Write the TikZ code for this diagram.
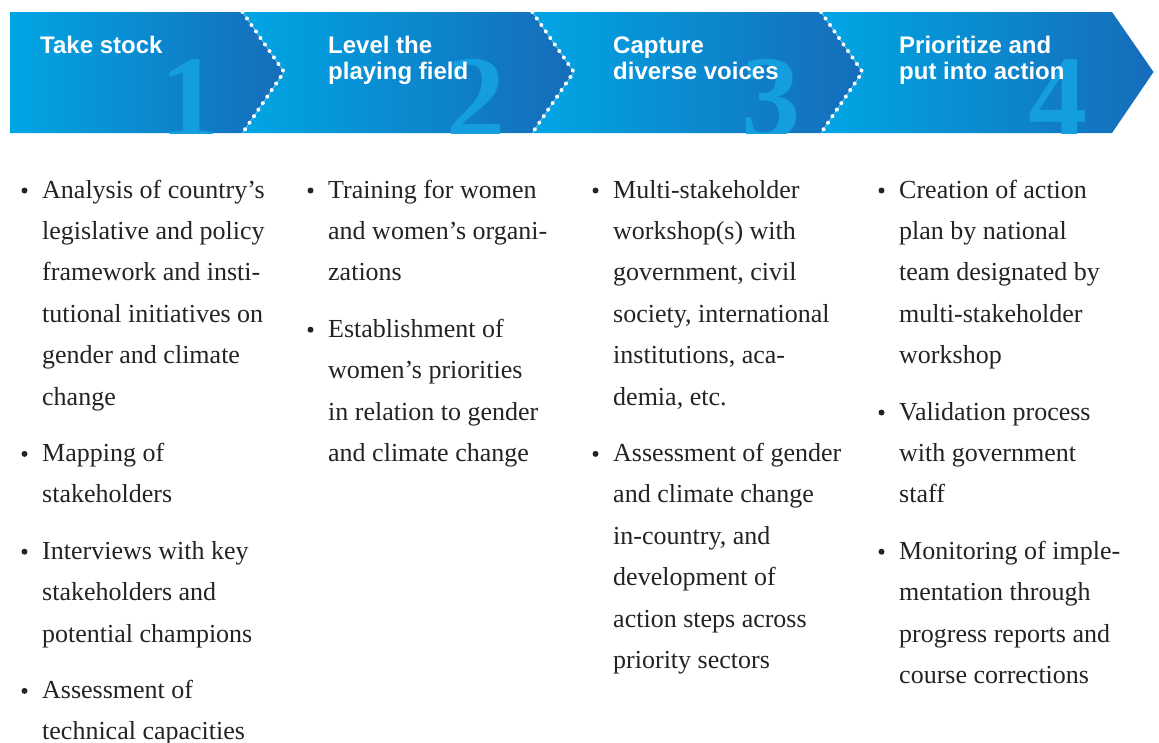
\documentclass[tikz,border=0pt]{standalone}
\usepackage{fontspec}
\setmainfont{Liberation Serif}
\newfontfamily\headFont{Liberation Sans}
\usetikzlibrary{positioning}
\definecolor{stepLight}{RGB}{0,166,228}
\definecolor{stepDark}{RGB}{22,108,186}
\definecolor{numColor}{RGB}{20,158,224}
\definecolor{dotLine}{RGB}{120,200,240}
\definecolor{bodyText}{RGB}{35,35,35}
\tikzset{
  stepTitle/.style={anchor=base west,inner sep=0pt,align=left,text=white,
    font=\headFont\bfseries\fontsize{24}{26}\selectfont},
  stepNum/.style={anchor=base east,inner sep=0pt,text=numColor,
    font=\bfseries\fontsize{118}{118}\selectfont},
  itemText/.style={anchor=base west,inner sep=0pt,align=left,text=bodyText,
    font=\fontsize{26}{41.4}\selectfont},
  chevronLine/.style={dotLine,line width=0.6pt},
  chevronDots/.style={white,line width=4pt,line cap=round,dash pattern=on 0pt off 7.9pt}
}

\begin{document}
\begin{tikzpicture}[x=1pt,y=-1pt]
  \useasboundingbox (0,0) rectangle (1159,742);
  % banner: first step has a flat left side
  \shade[left color=stepLight,right color=stepDark] (10,12) -- (242.5,12) -- (284,72) -- (242.5,133) -- (10,133) -- cycle;
  \foreach \xl/\xr in {242.5/532.3, 532.3/821, 821/1112}{
    \shade[left color=stepLight,right color=stepDark] (\xl,12) -- (\xr,12) -- (\xr+41.5,72) -- (\xr,133) -- (\xl,133) -- (\xl+41.5,72) -- cycle;
  }
  % big step numbers, cut at the banner bottom
  \begin{scope}
    \clip (10,12) rectangle (1112,133);
    \node[stepNum] (num1) at (220,137) {1};
    \node[stepNum] (num2) at (506,137) {2};
    \node[stepNum] (num3) at (801,137) {3};
    \node[stepNum] (num4) at (1088,137) {4};
  \end{scope}
  % dotted chevrons between the steps
  \foreach \xr in {242.5, 532.3, 821}{
    \draw[chevronLine] (\xr,12) -- (\xr+41.5,72) -- (\xr,133);
    \draw[chevronDots] (\xr,12) -- (\xr+41.5,72) -- (\xr,133);
  }
  % step titles (base is the last line)
  \node[stepTitle] (title1) at (40,53.3) {Take stock};
  \node[stepTitle] (title2) at (328,79.3) {Level the\\playing field};
  \node[stepTitle] (title3) at (613,79.3) {Capture\\diverse voices};
  \node[stepTitle] (title4) at (899,79.3) {Prioritize and\\put into action};
  % bullet lists: x / first baseline / lines / name / text
  \foreach \x/\y/\n/\name/\txt in {
    42/198/6/item11/{Analysis of country's\\legislative and policy\\framework and insti-\\tutional initiatives on\\gender and climate\\change},
    42/461.4/2/item12/{Mapping of\\stakeholders},
    42/559.2/3/item13/{Interviews with key\\stakeholders and\\potential champions},
    42/698.4/2/item14/{Assessment of\\technical capacities},
    328/198/3/item21/{Training for women\\and women's organi-\\zations},
    328/337.2/4/item22/{Establishment of\\women's priorities\\in relation to gender\\and climate change},
    613/198/6/item31/{Multi-stakeholder\\workshop(s) with\\government, civil\\society, international\\institutions, aca-\\demia, etc.},
    613/461.4/6/item32/{Assessment of gender\\and climate change\\in-country, and\\development of\\action steps across\\priority sectors},
    899/198/5/item41/{Creation of action\\plan by national\\team designated by\\multi-stakeholder\\workshop},
    899/420/3/item42/{Validation process\\with government\\staff},
    899/559.2/4/item43/{Monitoring of imple-\\mentation through\\progress reports and\\course corrections}}{
    \node[itemText] (\name) at (\x,{\y+(\n-1)*41.4}) {\txt};
    \fill[bodyText] (\x-17.5,\y-7.5) circle (3);
  }
\end{tikzpicture}
\end{document}
